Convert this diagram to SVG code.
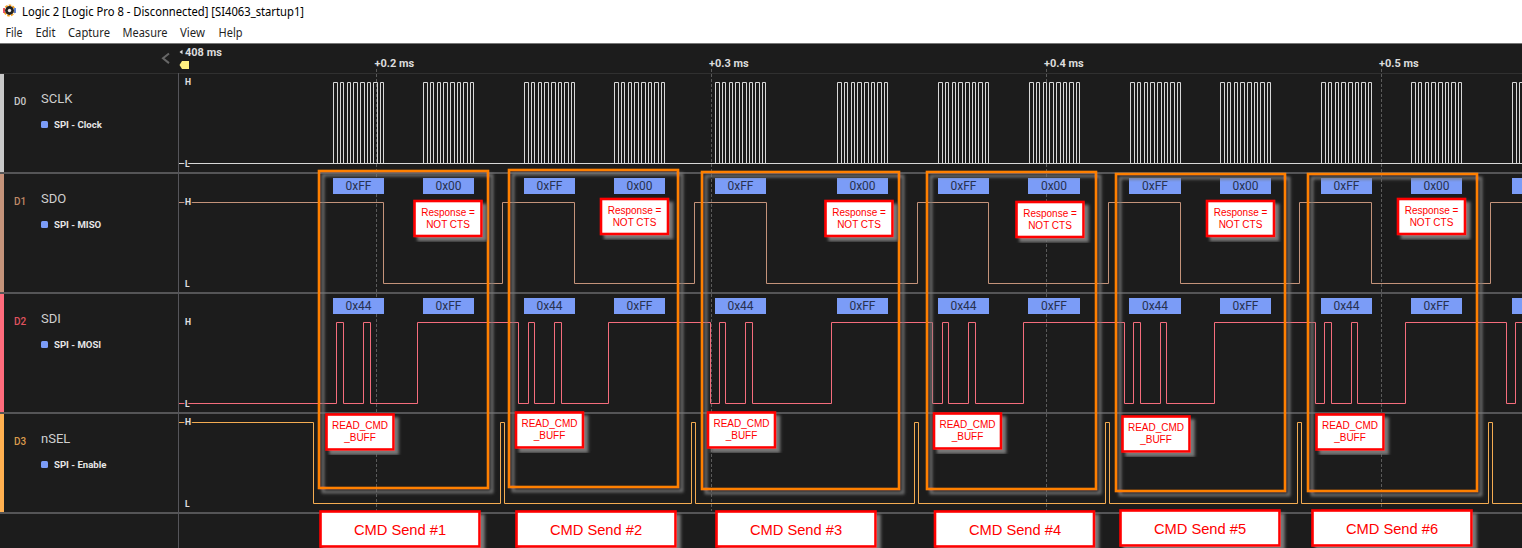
<svg xmlns="http://www.w3.org/2000/svg" xmlns:xlink="http://www.w3.org/1999/xlink" width="1522" height="548" viewBox="0 0 1522 548">
<style>
.menu{font:12px "Noto Sans","Open Sans",sans-serif;fill:#1f1f1f}
.time{font:700 11px Roboto,"Liberation Sans",sans-serif;fill:#dcdcdc}
.dn{font:500 10px Roboto,"Liberation Sans",sans-serif}
.name{font:13px Roboto,"Liberation Sans",sans-serif;fill:#cfcfcf}
.spi{font:700 9.6px Roboto,"Liberation Sans",sans-serif;fill:#e6e6e6}
.hl{font:700 8.5px Roboto,"Liberation Sans",sans-serif;fill:#e0e0e0;stroke:#1c1c1c;stroke-width:2.5px;paint-order:stroke}
.sep{fill:#555557}
.grid{stroke:#5a5a5a;stroke-width:1;stroke-dasharray:3 2;fill:none}
.sig{fill:none;stroke-width:1}
.blue{fill:#7b9cf7}
.bt{font:12px Roboto,"Liberation Sans",sans-serif;fill:#27314f;text-anchor:middle}
.frame{fill:none;stroke:#ff8000;stroke-width:2.6;filter:url(#sh)}
.note{fill:#fff;stroke:#f00;stroke-width:2.6;filter:url(#sh)}
.nt{font:10px "Liberation Sans",Arial,sans-serif;fill:#f00;text-anchor:middle}
.ct{font:14.7px "Liberation Sans",Arial,sans-serif;fill:#f00;text-anchor:middle}
.sq{fill:#7b9cf7}
</style>
<defs>
<filter id="sh" x="-10%" y="-10%" width="125%" height="125%">
<feDropShadow dx="4" dy="4" stdDeviation="1.6" flood-color="#787878" flood-opacity="1"/>
</filter>
<path id="burst" d="M0 163.5V82.5h4V163.5h3V82.5h3V163.5h4V82.5h3V163.5h3V82.5h4V163.5h3V82.5h4V163.5h3V82.5h3V163.5h3V82.5h4V163.5h3V82.5h3V163.5"/>
</defs>

<rect width="1522" height="43" fill="#fff"/>
<rect y="43" width="1522" height="505" fill="#1c1c1c"/>
<rect y="43" width="1522" height="1" fill="#777"/>

<g id="titlebar">
<circle cx="9.5" cy="10.5" r="5" fill="none" stroke="#f5a020" stroke-width="2" stroke-dasharray="2.5 1.2"/>
<path d="M4 8v5" stroke="#e5334b" stroke-width="1.6"/>
<path d="M15 8v5" stroke="#3a6fe0" stroke-width="1.6"/>
<circle cx="9.5" cy="10.5" r="4.4" fill="#222"/>
<circle cx="9.5" cy="10.5" r="1.7" fill="#eee"/>
<text x="22" y="16" class="menu" style="fill:#000" textLength="282" lengthAdjust="spacingAndGlyphs">Logic 2 [Logic Pro 8 - Disconnected] [SI4063_startup1]</text>
</g>
<g id="menubar">
<text x="5.5" y="37" class="menu" textLength="17" lengthAdjust="spacingAndGlyphs">File</text>
<text x="35.5" y="37" class="menu" textLength="20" lengthAdjust="spacingAndGlyphs">Edit</text>
<text x="68" y="37" class="menu" textLength="42" lengthAdjust="spacingAndGlyphs">Capture</text>
<text x="122.5" y="37" class="menu" textLength="45" lengthAdjust="spacingAndGlyphs">Measure</text>
<text x="180" y="37" class="menu" textLength="25" lengthAdjust="spacingAndGlyphs">View</text>
<text x="218.5" y="37" class="menu" textLength="24" lengthAdjust="spacingAndGlyphs">Help</text>
</g>

<g id="timeline">
<rect y="73" width="1522" height="1" fill="#303030"/>
<path d="M169 53.5l-6 4.8 6 4.8" fill="none" stroke="#666" stroke-width="2"/>
<path d="M179.5 52l3-2.2v4.4z" fill="#ddd"/>
<text x="185" y="56" class="time">408 ms</text>
<path d="M179.5 65l2.5-4h7v8h-7z" fill="#fff080"/>
<text x="374.5" y="67" class="time">+0.2 ms</text>
<text x="709" y="67" class="time">+0.3 ms</text>
<text x="1044" y="67" class="time">+0.4 ms</text>
<text x="1379" y="67" class="time">+0.5 ms</text>
</g>

<g id="grid">
<path class="grid" d="M376.5 69V511M711.5 69V511M1046.5 69V511M1381.5 69V511"/>
<rect class="sep" x="0" y="172" width="1522" height="2"/>
<rect class="sep" x="0" y="292" width="1522" height="2"/>
<rect class="sep" x="0" y="412" width="1522" height="2"/>
<rect class="sep" x="0" y="512" width="1522" height="2"/>
<rect x="178" y="73" width="1" height="475" fill="#55555a"/>
</g>

<g id="connectors">
<g id="wave-sclk" class="sig" stroke="#d8d8d8">
<path d="M179 163.5H1522"/>
<use xlink:href="#burst" href="#burst" x="333.5"/>
<use xlink:href="#burst" href="#burst" x="423.5"/>
<use xlink:href="#burst" href="#burst" x="524.5"/>
<use xlink:href="#burst" href="#burst" x="614.5"/>
<use xlink:href="#burst" href="#burst" x="715.5"/>
<use xlink:href="#burst" href="#burst" x="837.5"/>
<use xlink:href="#burst" href="#burst" x="938.5"/>
<use xlink:href="#burst" href="#burst" x="1029.5"/>
<use xlink:href="#burst" href="#burst" x="1130.5"/>
<use xlink:href="#burst" href="#burst" x="1220.5"/>
<use xlink:href="#burst" href="#burst" x="1321.5"/>
<use xlink:href="#burst" href="#burst" x="1411.5"/>
<use xlink:href="#burst" href="#burst" x="1512.5"/>
</g>
<path id="wave-sdo" class="sig" stroke="#c4937a" d="M179 202.5H383.5V283.5H502.5V202.5H574.5V283.5H694.5V202.5H766.5V283.5H917.5V202.5H988.5V283.5H1108.5V202.5H1180.5V283.5H1299.5V202.5H1371.5V283.5H1490.5V202.5H1522"/>
<path id="wave-sdi" class="sig" stroke="#f56d7c" d="M179 403.5H336.5V322.5H343.5V403.5H363.5V322.5H370.5V403.5H417.5V322.5H518.5V403.5H528.5V322.5H534.5V403.5H554.5V322.5H561.5V403.5H608.5V322.5H710.5V403.5H719.5V322.5H725.5V403.5H745.5V322.5H752.5V403.5H831.5V322.5H932.5V403.5H942.5V322.5H948.5V403.5H968.5V322.5H975.5V403.5H1023.5V322.5H1124.5V403.5H1133.5V322.5H1140.5V403.5H1160.5V322.5H1166.5V403.5H1214.5V322.5H1315.5V403.5H1324.5V322.5H1331.5V403.5H1351.5V322.5H1357.5V403.5H1405.5V322.5H1506.5V403.5H1515.5V322.5H1522"/>
<path id="wave-nsel" class="sig" stroke="#f4ac52" d="M179 422.5H313.5V503.5H500.5V422.5H504.5V503.5H691.5V422.5H695.5V503.5H914.5V422.5H918.5V503.5H1105.5V422.5H1109.5V503.5H1297.5V422.5H1301.5V503.5H1488.5V422.5H1492.5V503.5H1522"/>
</g>

<g id="channel-d0">
<rect x="0" y="74" width="4" height="98" fill="#c8c8c8"/>
<text x="14" y="104.5" class="dn" fill="#c8c8c8">D0</text>
<text x="41" y="103.3" class="name">SCLK</text>
<rect class="sq" x="41" y="121" width="7" height="7" rx="1.5"/>
<text x="54" y="128.3" class="spi">SPI - Clock</text>
<text x="185" y="85" class="hl">H</text>
<text x="185" y="166.5" class="hl">L</text>
</g>
<g id="channel-d1">
<rect x="0" y="174" width="4" height="118" fill="#c4937a"/>
<text x="14" y="204.5" class="dn" fill="#c08a68">D1</text>
<text x="41" y="203.3" class="name">SDO</text>
<rect class="sq" x="41" y="221" width="7" height="7" rx="1.5"/>
<text x="54" y="228.3" class="spi">SPI - MISO</text>
<text x="185" y="205" class="hl">H</text>
<text x="185" y="287" class="hl">L</text>
</g>
<g id="channel-d2">
<rect x="0" y="294" width="4" height="118" fill="#ff6b7c"/>
<text x="14" y="324.5" class="dn" fill="#e0535f">D2</text>
<text x="41" y="323.3" class="name">SDI</text>
<rect class="sq" x="41" y="341" width="7" height="7" rx="1.5"/>
<text x="54" y="348.3" class="spi">SPI - MOSI</text>
<text x="185" y="325" class="hl">H</text>
<text x="185" y="407" class="hl">L</text>
</g>
<g id="channel-d3">
<rect x="0" y="414" width="4" height="98" fill="#ffb050"/>
<text x="14" y="444.5" class="dn" fill="#d99a4c">D3</text>
<text x="41" y="443.3" class="name">nSEL</text>
<rect class="sq" x="41" y="461" width="7" height="7" rx="1.5"/>
<text x="54" y="468.3" class="spi">SPI - Enable</text>
<text x="185" y="425" class="hl">H</text>
<text x="185" y="507" class="hl">L</text>
</g>

<g id="decoded-bytes">
<rect class="blue" x="333" y="178" width="51" height="16"/><text class="bt" x="358.5" y="190">0xFF</text>
<rect class="blue" x="423" y="178" width="51" height="16"/><text class="bt" x="448.5" y="190">0x00</text>
<rect class="blue" x="524" y="178" width="51" height="16"/><text class="bt" x="549.5" y="190">0xFF</text>
<rect class="blue" x="614" y="178" width="51" height="16"/><text class="bt" x="639.5" y="190">0x00</text>
<rect class="blue" x="715" y="178" width="51" height="16"/><text class="bt" x="740.5" y="190">0xFF</text>
<rect class="blue" x="837" y="178" width="51" height="16"/><text class="bt" x="862.5" y="190">0x00</text>
<rect class="blue" x="938" y="178" width="51" height="16"/><text class="bt" x="963.5" y="190">0xFF</text>
<rect class="blue" x="1028" y="178" width="52" height="16"/><text class="bt" x="1054" y="190">0x00</text>
<rect class="blue" x="1129" y="178" width="52" height="16"/><text class="bt" x="1155" y="190">0xFF</text>
<rect class="blue" x="1220" y="178" width="51" height="16"/><text class="bt" x="1245.5" y="190">0x00</text>
<rect class="blue" x="1321" y="178" width="51" height="16"/><text class="bt" x="1346.5" y="190">0xFF</text>
<rect class="blue" x="1411" y="178" width="51" height="16"/><text class="bt" x="1436.5" y="190">0x00</text>
<rect class="blue" x="1512" y="178" width="10" height="16"/>
<rect class="blue" x="333" y="298" width="51" height="16"/><text class="bt" x="358.5" y="310">0x44</text>
<rect class="blue" x="423" y="298" width="51" height="16"/><text class="bt" x="448.5" y="310">0xFF</text>
<rect class="blue" x="524" y="298" width="51" height="16"/><text class="bt" x="549.5" y="310">0x44</text>
<rect class="blue" x="614" y="298" width="51" height="16"/><text class="bt" x="639.5" y="310">0xFF</text>
<rect class="blue" x="715" y="298" width="51" height="16"/><text class="bt" x="740.5" y="310">0x44</text>
<rect class="blue" x="837" y="298" width="51" height="16"/><text class="bt" x="862.5" y="310">0xFF</text>
<rect class="blue" x="938" y="298" width="51" height="16"/><text class="bt" x="963.5" y="310">0x44</text>
<rect class="blue" x="1028" y="298" width="52" height="16"/><text class="bt" x="1054" y="310">0xFF</text>
<rect class="blue" x="1129" y="298" width="52" height="16"/><text class="bt" x="1155" y="310">0x44</text>
<rect class="blue" x="1220" y="298" width="51" height="16"/><text class="bt" x="1245.5" y="310">0xFF</text>
<rect class="blue" x="1321" y="298" width="51" height="16"/><text class="bt" x="1346.5" y="310">0x44</text>
<rect class="blue" x="1411" y="298" width="51" height="16"/><text class="bt" x="1436.5" y="310">0xFF</text>
<rect class="blue" x="1512" y="298" width="10" height="16"/>
</g>

<g id="frames">
<rect class="frame" x="319" y="171" width="169" height="317"/>
<rect class="frame" x="509" y="170" width="169" height="317"/>
<rect class="frame" x="702" y="172" width="197" height="317"/>
<rect class="frame" x="927" y="172" width="169" height="317"/>
<rect class="frame" x="1116" y="174" width="169" height="317"/>
<rect class="frame" x="1308" y="174" width="169" height="317"/>
</g>

<g id="response-1"><rect class="note" x="414.5" y="201" width="67" height="35"/><text class="nt" x="448" y="216">Response =</text><text class="nt" x="448" y="227.5">NOT CTS</text></g>
<g id="response-2"><rect class="note" x="601" y="199" width="67" height="35"/><text class="nt" x="634.5" y="214">Response =</text><text class="nt" x="634.5" y="225.5">NOT CTS</text></g>
<g id="response-3"><rect class="note" x="825.5" y="201" width="67" height="35"/><text class="nt" x="859" y="216">Response =</text><text class="nt" x="859" y="227.5">NOT CTS</text></g>
<g id="response-4"><rect class="note" x="1016.5" y="202" width="67" height="35"/><text class="nt" x="1050" y="217">Response =</text><text class="nt" x="1050" y="228.5">NOT CTS</text></g>
<g id="response-5"><rect class="note" x="1207" y="201" width="67" height="35"/><text class="nt" x="1240.5" y="216">Response =</text><text class="nt" x="1240.5" y="227.5">NOT CTS</text></g>
<g id="response-6"><rect class="note" x="1398" y="199" width="67" height="35"/><text class="nt" x="1431.5" y="214">Response =</text><text class="nt" x="1431.5" y="225.5">NOT CTS</text></g>

<g id="read-1"><rect class="note" x="326.5" y="414.5" width="67" height="35"/><text class="nt" x="360" y="429">READ_CMD</text><text class="nt" x="360" y="441">_BUFF</text></g>
<g id="read-2"><rect class="note" x="516" y="412.5" width="67" height="35"/><text class="nt" x="549.5" y="427">READ_CMD</text><text class="nt" x="549.5" y="439">_BUFF</text></g>
<g id="read-3"><rect class="note" x="708" y="412.5" width="67" height="35"/><text class="nt" x="741.5" y="427">READ_CMD</text><text class="nt" x="741.5" y="439">_BUFF</text></g>
<g id="read-4"><rect class="note" x="934" y="413.5" width="67" height="35"/><text class="nt" x="967.5" y="428">READ_CMD</text><text class="nt" x="967.5" y="440">_BUFF</text></g>
<g id="read-5"><rect class="note" x="1122.5" y="416.5" width="67" height="35"/><text class="nt" x="1156" y="431">READ_CMD</text><text class="nt" x="1156" y="443">_BUFF</text></g>
<g id="read-6"><rect class="note" x="1316.5" y="414.5" width="67" height="35"/><text class="nt" x="1350" y="429">READ_CMD</text><text class="nt" x="1350" y="441">_BUFF</text></g>

<g id="cmd-1"><rect class="note" x="320.5" y="511.5" width="159" height="35"/><text class="ct" x="400" y="534.5">CMD Send #1</text></g>
<g id="cmd-2"><rect class="note" x="516.5" y="511.5" width="159" height="35"/><text class="ct" x="596" y="534.5">CMD Send #2</text></g>
<g id="cmd-3"><rect class="note" x="716.5" y="511.5" width="159" height="35"/><text class="ct" x="796" y="534.5">CMD Send #3</text></g>
<g id="cmd-4"><rect class="note" x="935" y="511.5" width="159" height="35"/><text class="ct" x="1015" y="534.5">CMD Send #4</text></g>
<g id="cmd-5"><rect class="note" x="1120.5" y="510.5" width="159" height="35"/><text class="ct" x="1200" y="533.5">CMD Send #5</text></g>
<g id="cmd-6"><rect class="note" x="1312.5" y="510.5" width="159" height="35"/><text class="ct" x="1392" y="533.5">CMD Send #6</text></g>
</svg>
